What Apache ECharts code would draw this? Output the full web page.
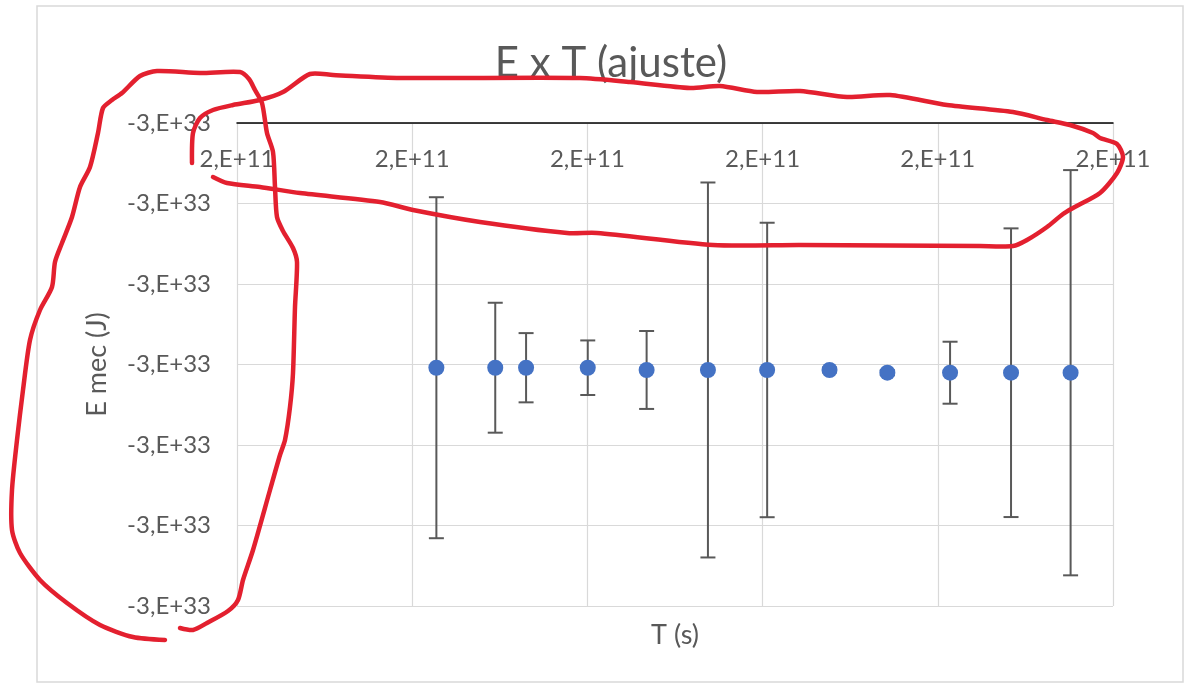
<!DOCTYPE html>
<html>
<head>
<meta charset="utf-8">
<style>
  html, body { margin: 0; padding: 0; background: #ffffff; }
  #chart { width: 1187px; height: 685px; }
</style>
<script src="https://cdn.jsdelivr.net/npm/echarts@6/dist/echarts.min.js"></script>
</head>
<body>
<div id="chart"></div>
<script>
// Period T, in units of 1e9 s
const T_UNIT = 1e9;
const tValues = [205.69, 207.37, 208.25, 210.01, 211.69, 213.44, 215.13, 216.91, 218.56, 220.35, 222.09, 223.79];
// Mechanical energy E, in units of 1e30 J
const E_UNIT = 1e30;
const eValues = [-3004.0, -3004.0, -3004.0, -3004.0, -3006.8, -3006.8, -3006.8, -3006.8, -3010.2, -3010.2, -3010.2, -3010.2];
// Symmetric uncertainty of E, same units
const eErrors = [211.8, 80.7, 43.0, 33.9, 48.4, 232.9, 182.9, 3.0, 3.0, 38.5, 179.3, 251.7];

// Axis ranges (same units as the data)
const xRange = { min: 200, max: 225, step: 5 };
const yRange = { min: -3300, max: -2700, step: 100 };

const TEXT = '#595959';
const GRID = '#d9d9d9';
const FONT = 'Lato, "Open Sans", sans-serif';
const RED = '#e3202f';

// Excel-like "0,E+00" number format
function sciLabel(v, unit) {
  const x = v * unit;
  if (x === 0) return '0,E+00';
  let e = Math.floor(Math.log10(Math.abs(x)));
  let m = Math.round(x / Math.pow(10, e));
  if (Math.abs(m) >= 10) { m = Math.round(m / 10); e += 1; }
  return m + ',E' + (e >= 0 ? '+' : '-') + String(Math.abs(e)).padStart(2, '0');
}

const scatterData = tValues.map((t, i) => [t, eValues[i]]);
const errData = tValues.map((t, i) => [t, eValues[i], eErrors[i]]);

// hand-drawn red outlines
const leftLoop = [
  [165,640],[133,637],[100,625],[67,603],[40,580],[20,553],[12,530],[12,490],[17,440],[23,390],
  [30,340],[40,310],[52,287],[55,262],[62,243],[72,217],[80,187],[90,167],[98,133],[103,108],
  [112,100],[122,93],[140,76],[157,71],[200,73],[240,72],[249,79],[255,90],[262,103],[267,133],
  [273,152],[275,187],[277,217],[283,231],[293,248],[297,262],[295,307],[293,373],[290,407],
  [285,440],[280,455],[270,490],[253,550],[243,580],[238,600],[228,611],[207,623],[193,630],[180,628]
];
const topLoop = [
  [192,163],[193,133],[200,118],[213,110],[233,105],[260,100],[283,92],[310,74],[333,75],[400,78],
  [580,78],[630,82],[690,88],[720,86],[757,92],[800,91],[847,97],[890,95],[947,105],[1013,112],
  [1047,120],[1070,125],[1093,133],[1100,138],[1117,144],[1123,157],[1117,173],[1100,193],
  [1073,208],[1063,214],[1047,227],[1027,240],[1013,246],[980,246],[800,245],[713,245],
  [597,233],[567,233],[480,222],[413,210],[380,202],[300,193],[260,187],[227,183],[213,177]
];

const chart = echarts.init(document.getElementById('chart'), null, { renderer: 'canvas' });

chart.setOption({
  backgroundColor: '#ffffff',
  animation: false,
  title: {
    text: 'E x T (ajuste)',
    left: 606,
    textAlign: 'center',
    top: 37,
    textStyle: { color: TEXT, fontFamily: FONT, fontSize: 42, fontWeight: 'normal' }
  },
  grid: { left: 237, top: 123, width: 876, height: 483 },
  xAxis: [{
    type: 'value',
    position: 'top',
    min: xRange.min, max: xRange.max, interval: xRange.step,
    axisLine: { show: true, onZero: false, lineStyle: { color: '#000000', width: 1.5 } },
    axisTick: { show: false },
    axisLabel: {
      inside: true, margin: 24,
      color: TEXT, fontFamily: FONT, fontSize: 24,
      formatter: v => sciLabel(v, T_UNIT)
    },
    splitLine: { show: true, lineStyle: { color: GRID, width: 1.2 } }
  }, {
    type: 'value',
    position: 'bottom',
    min: xRange.min, max: xRange.max,
    name: 'T (s)',
    nameLocation: 'middle',
    nameGap: 16,
    nameTextStyle: { color: TEXT, fontFamily: FONT, fontSize: 27 },
    axisLine: { show: false },
    axisTick: { show: false },
    axisLabel: { show: false },
    splitLine: { show: false }
  }],
  yAxis: {
    type: 'value',
    min: yRange.min, max: yRange.max, interval: yRange.step,
    name: 'E mec (J)',
    nameLocation: 'middle',
    nameRotate: 90,
    nameGap: 126,
    nameTextStyle: { color: TEXT, fontFamily: FONT, fontSize: 27 },
    axisLine: { show: false },
    axisTick: { show: false },
    axisLabel: {
      margin: 26,
      color: TEXT, fontFamily: FONT, fontSize: 24,
      formatter: v => sciLabel(v, E_UNIT)
    },
    splitLine: { show: true, lineStyle: { color: GRID, width: 1.2 } }
  },
  series: [{
    type: 'custom',
    xAxisIndex: 0,
    z: 2,
    data: errData,
    renderItem: function (params, api) {
      const x = api.value(0), y = api.value(1), e = api.value(2);
      const top = api.coord([x, y + e]);
      const bot = api.coord([x, y - e]);
      const half = 7.5;
      const style = { stroke: '#595959', lineWidth: 2 };
      return {
        type: 'group',
        children: [
          { type: 'line', shape: { x1: top[0], y1: top[1], x2: bot[0], y2: bot[1] }, style: style },
          { type: 'line', shape: { x1: top[0] - half, y1: top[1], x2: top[0] + half, y2: top[1] }, style: style },
          { type: 'line', shape: { x1: bot[0] - half, y1: bot[1], x2: bot[0] + half, y2: bot[1] }, style: style }
        ]
      };
    }
  }, {
    type: 'scatter',
    xAxisIndex: 0,
    z: 3,
    symbol: 'circle',
    symbolSize: 16,
    itemStyle: { color: '#4472c4', opacity: 1 },
    data: scatterData
  }],
  graphic: [
    {
      type: 'rect',
      shape: { x: 37, y: 6, width: 1146, height: 676 },
      style: { fill: 'none', stroke: '#d9d9d9', lineWidth: 1.5 },
      z: 0, silent: true
    },
    {
      type: 'polyline',
      shape: { points: leftLoop, smooth: 0.25 },
      style: { fill: 'none', stroke: RED, lineWidth: 4.5, lineCap: 'round', lineJoin: 'round' },
      z: 100, silent: true
    },
    {
      type: 'polyline',
      shape: { points: topLoop, smooth: 0.25 },
      style: { fill: 'none', stroke: RED, lineWidth: 4.5, lineCap: 'round', lineJoin: 'round' },
      z: 100, silent: true
    }
  ]
});
</script>
</body>
</html>
